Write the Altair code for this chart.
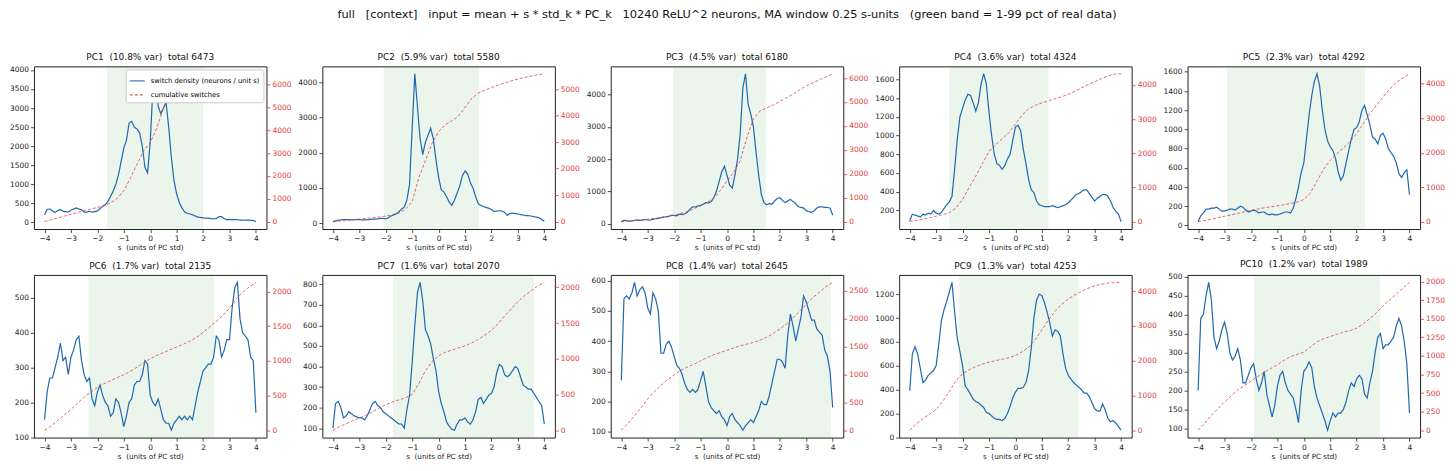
import altair as alt
import pandas as pd

# ---------------- data ----------------
S_DENS = [round(-4 + 0.1 * i, 1) for i in range(81)]
S_CUM = [-4 + 0.25 * i for i in range(33)]

PC_NAMES = ["PC1", "PC2", "PC3", "PC4", "PC5", "PC6", "PC7", "PC8", "PC9", "PC10"]
VAR_PCT = ["10.8", "5.9", "4.5", "3.6", "2.3", "1.7", "1.6", "1.4", "1.3", "1.2"]
TOTALS = [6473, 5580, 6180, 4324, 4292, 2135, 2070, 2645, 4253, 1989]
BAND_LO = [-1.63, -2.08, -2.05, -2.51, -2.90, -2.34, -1.73, -1.82, -2.13, -1.89]
BAND_HI = [2.01, 1.54, 1.47, 1.25, 2.32, 2.42, 3.61, 3.94, 2.39, 2.89]

DENS_PC1 = [200, 340, 350, 300, 260, 310, 340, 290, 280, 270,
            320, 350, 380, 350, 330, 270, 270, 290, 270, 280,
            300, 360, 420, 470, 550, 680, 820, 1000, 1250, 1600,
            1950, 2150, 2600, 2650, 2500, 2450, 2350, 2000, 1450, 1300,
            2100, 3500, 3900, 3050, 2850, 3000, 3150, 2500, 1700, 1100,
            750, 520, 380, 280, 240, 220, 200, 170, 140, 130,
            120, 110, 110, 100, 90, 100, 150, 150, 100, 70,
            70, 70, 70, 70, 60, 60, 55, 60, 55, 50,
            20]
DENS_PC2 = [40, 60, 80, 90, 100, 100, 95, 90, 95, 100,
            95, 90, 90, 95, 100, 110, 110, 120, 130, 130,
            120, 150, 200, 230, 260, 320, 400, 450, 650, 1100,
            2700, 4250, 3300, 2400, 1950, 2300, 2500, 2700, 2400, 1800,
            1300, 950, 880, 750, 600, 500, 650, 850, 1050, 1350,
            1480, 1400, 1150, 1000, 750, 550, 500, 470, 440, 420,
            380, 330, 340, 350, 340, 300, 220, 270, 280, 270,
            260, 240, 230, 210, 210, 200, 180, 170, 150, 110,
            50]
DENS_PC3 = [60, 100, 90, 70, 80, 100, 110, 100, 110, 120,
            110, 110, 130, 150, 160, 180, 200, 210, 220, 260,
            250, 240, 290, 280, 300, 350, 450, 520, 510, 550,
            560, 600, 650, 640, 680, 800, 1000, 1300, 1600, 1780,
            1500, 1200, 1100, 1500, 2000, 2800, 4200, 4650, 3700, 3400,
            3000, 2200, 1500, 900, 650, 580, 620, 600, 700, 780,
            800, 720, 650, 700, 750, 680, 620, 520, 500, 480,
            400, 370, 350, 400, 480, 520, 520, 500, 500, 480,
            260]
DENS_PC4 = [90, 160, 150, 140, 130, 160, 150, 170, 160, 200,
            170, 160, 180, 220, 260, 290, 350, 640, 960, 1200,
            1290, 1380, 1440, 1430, 1350, 1260, 1350, 1550, 1660, 1550,
            1250, 1000, 800, 700, 680, 640, 680, 750, 800, 950,
            1090, 1110, 1050, 850, 700, 530, 420, 390, 300, 260,
            250, 240, 240, 240, 250, 240, 230, 240, 250, 260,
            280, 310, 340, 370, 380, 400, 420, 420, 380, 340,
            300, 330, 350, 370, 370, 350, 300, 230, 190, 160,
            80]
DENS_PC5 = [40, 100, 130, 170, 170, 180, 180, 190, 170, 150,
            150, 160, 170, 170, 160, 180, 200, 190, 160, 140,
            150, 160, 150, 130, 140, 140, 120, 110, 120, 110,
            110, 120, 130, 140, 140, 130, 180, 280, 400, 550,
            650, 900, 1150, 1350, 1500, 1580, 1450, 1200, 1000, 880,
            820, 780, 700, 560, 470, 520, 650, 780, 900, 1000,
            1020, 1080, 1200, 1250, 1150, 1050, 920, 900, 850, 940,
            960, 900, 800, 760, 720, 650, 540, 500, 550, 580,
            320]
DENS_PC6 = [150, 230, 270, 270, 300, 330, 370, 320, 330, 280,
            330, 350, 380, 390, 320, 280, 260, 270, 210, 190,
            230, 250, 220, 200, 190, 160, 170, 210, 200, 170,
            130, 160, 200, 210, 250, 260, 260, 280, 320, 310,
            220, 200, 190, 210, 180, 150, 140, 140, 120, 140,
            150, 160, 150, 160, 150, 160, 150, 190, 230, 260,
            290, 300, 310, 310, 330, 390, 380, 330, 350, 380,
            380, 470, 530, 545, 440, 400, 390, 380, 330, 320,
            170]
DENS_PC7 = [100, 220, 230, 200, 150, 160, 180, 170, 160, 155,
            150, 150, 140, 160, 190, 220, 230, 210, 200, 180,
            170, 160, 150, 140, 130, 120, 120, 100, 190, 260,
            420, 600, 760, 810, 720, 580, 550, 510, 440, 380,
            280, 220, 180, 130, 110, 95, 90, 120, 140, 140,
            150, 130, 120, 140, 180, 240, 250, 220, 240, 260,
            270, 300, 370, 410, 400, 360, 350, 360, 380, 400,
            390, 350, 310, 300, 290, 290, 270, 250, 230, 210,
            120]
DENS_PC8 = [270, 540, 550, 540, 560, 595, 550, 570, 580, 560,
            510, 490, 560, 540, 500, 360, 360, 390, 400, 380,
            350, 320, 310, 290, 260, 240, 230, 240, 230, 240,
            270, 300, 250, 200, 180, 170, 160, 170, 150, 140,
            120, 150, 160, 140, 130, 120, 105, 120, 130, 140,
            130, 150, 170, 200, 190, 190, 220, 260, 300, 340,
            340, 330, 310, 420, 490, 450, 400, 440, 480, 550,
            530, 500, 470, 470, 440, 430, 420, 370, 350, 300,
            180]
DENS_PC9 = [390, 700, 760, 700, 580, 460, 480, 520, 540, 560,
            600, 780, 980, 1070, 1140, 1220, 1300, 1050, 830, 720,
            600, 430, 400, 360, 320, 300, 290, 270, 250, 210,
            200, 180, 160, 150, 150, 140, 160, 200, 260, 330,
            380, 410, 410, 420, 460, 560, 750, 1000, 1150, 1200,
            1190, 1130, 1050, 960, 850, 900, 890, 850, 700, 580,
            520, 490, 460, 440, 420, 400, 370, 370, 340, 290,
            240, 220, 220, 280, 230, 160, 130, 140, 120, 90,
            60]
DENS_PC10 = [200, 390, 400, 450, 485, 440, 340, 310, 330, 360,
             380, 350, 300, 280, 290, 310, 280, 220, 220, 240,
             260, 270, 230, 200, 220, 250, 190, 160, 130, 160,
             210, 240, 250, 220, 200, 190, 180, 150, 115, 200,
             250, 260, 275, 260, 210, 180, 160, 140, 120, 95,
             120, 140, 130, 140, 140, 150, 170, 200, 220, 210,
             230, 240, 230, 190, 180, 220, 250, 300, 340, 350,
             310, 320, 320, 330, 340, 370, 390, 370, 330, 270,
             140]

CUM_PC1 = [0, 80, 160, 240, 320, 400, 480, 550, 620, 700, 820, 1020, 1350, 1900, 2500, 3100,
           3450, 4100, 4950, 5650, 6000, 6200, 6280, 6330, 6360, 6380, 6400, 6420, 6440, 6450,
           6460, 6468, 6473]
CUM_PC2 = [0, 20, 45, 70, 95, 120, 145, 175, 210, 260, 330, 470, 750, 1650, 2300, 2950,
           3400, 3650, 3800, 3980, 4300, 4650, 4850, 4960, 5060, 5150, 5230, 5310, 5380, 5440,
           5490, 5540, 5580]
CUM_PC3 = [0, 25, 45, 70, 100, 135, 175, 220, 275, 340, 420, 530, 660, 810, 980, 1300,
           1700, 2050, 2550, 3500, 4300, 4620, 4750, 4880, 5020, 5180, 5330, 5500, 5680, 5800,
           5930, 6060, 6180]
CUM_PC4 = [0, 35, 75, 115, 160, 205, 260, 400, 650, 1000, 1330, 1690, 2050, 2250, 2420, 2600,
           2850, 3110, 3300, 3400, 3470, 3530, 3590, 3650, 3720, 3810, 3910, 4010, 4090, 4180,
           4260, 4310, 4324]
CUM_PC5 = [0, 30, 70, 115, 155, 195, 240, 285, 325, 365, 400, 430, 460, 490, 525, 570,
           640, 830, 1180, 1520, 1780, 1970, 2140, 2320, 2560, 2840, 3130, 3380, 3620, 3850,
           4040, 4170, 4292]
CUM_PC6 = [0, 60, 140, 220, 300, 390, 480, 550, 615, 670, 715, 760, 800, 850, 910, 975,
           1030, 1080, 1120, 1160, 1200, 1240, 1285, 1340, 1410, 1490, 1570, 1660, 1760, 1890,
           1990, 2070, 2135]
CUM_PC7 = [0, 50, 90, 130, 170, 210, 260, 310, 355, 395, 425, 455, 500, 650, 830, 960,
           1040, 1090, 1120, 1150, 1180, 1220, 1270, 1330, 1400, 1490, 1600, 1700, 1800, 1880,
           1950, 2020, 2070]
CUM_PC8 = [0, 120, 260, 400, 560, 690, 800, 900, 990, 1070, 1130, 1180, 1240, 1300, 1350, 1390,
           1430, 1470, 1510, 1540, 1570, 1610, 1660, 1730, 1810, 1900, 2010, 2130, 2250, 2370,
           2470, 2570, 2645]
CUM_PC9 = [0, 180, 330, 460, 600, 830, 1110, 1420, 1620, 1740, 1830, 1900, 1960, 2000, 2040, 2080,
           2150, 2250, 2380, 2600, 2880, 3170, 3420, 3620, 3770, 3890, 3990, 4080, 4150, 4200,
           4230, 4245, 4253]
CUM_PC10 = [0, 90, 200, 290, 380, 460, 540, 600, 660, 720, 780, 830, 880, 940, 990, 1020,
            1050, 1120, 1190, 1230, 1260, 1290, 1320, 1340, 1370, 1430, 1500, 1580, 1670, 1750,
            1830, 1910, 1989]

DENS = [DENS_PC1, DENS_PC2, DENS_PC3, DENS_PC4, DENS_PC5,
        DENS_PC6, DENS_PC7, DENS_PC8, DENS_PC9, DENS_PC10]
CUM = [CUM_PC1, CUM_PC2, CUM_PC3, CUM_PC4, CUM_PC5,
       CUM_PC6, CUM_PC7, CUM_PC8, CUM_PC9, CUM_PC10]

LEFT_TICKS = [
    list(range(0, 4001, 500)),
    list(range(0, 4001, 1000)),
    list(range(0, 4001, 1000)),
    list(range(200, 1601, 200)),
    list(range(0, 1601, 200)),
    list(range(100, 501, 100)),
    list(range(100, 801, 100)),
    list(range(100, 601, 100)),
    list(range(0, 1201, 200)),
    list(range(100, 501, 50)),
]
RIGHT_TICKS = [
    list(range(0, 6001, 1000)),
    list(range(0, 5001, 1000)),
    list(range(0, 6001, 1000)),
    list(range(0, 4001, 1000)),
    list(range(0, 4001, 1000)),
    list(range(0, 2001, 500)),
    list(range(0, 2001, 500)),
    list(range(0, 2501, 500)),
    list(range(0, 4001, 1000)),
    list(range(0, 2001, 250)),
]
X_TICKS = [-4, -3, -2, -1, 0, 1, 2, 3, 4]

LBL_D = "switch density (neurons / unit s)"
LBL_C = "cumulative switches"
BLUE = "#1f68b0"
RED = "#e0393b"
FONT = "DejaVu Sans"
NB = "\u00a0"

MAIN_TITLE = ("full   [context]   input = mean + s * std_k * PC_k   10240 ReLU^2 neurons, "
              "MA window 0.25 s-units   (green band = 1-99 pct of real data)")


def sp(t):
    return t.replace("  ", " " + NB)


def padded(vals):
    lo, hi = min(vals), max(vals)
    r = hi - lo
    return [lo - 0.05 * r, hi + 0.05 * r]


def panel(i):
    dens_df = pd.DataFrame({"s": S_DENS, "v": DENS[i], "series": LBL_D})
    cum_df = pd.DataFrame({"s": S_CUM, "v": CUM[i], "series": LBL_C})
    band_df = pd.DataFrame({"lo": [BAND_LO[i]], "hi": [BAND_HI[i]]})

    xscale = alt.Scale(domain=[-4.4, 4.4], nice=False, zero=False)
    xaxis = alt.Axis(values=X_TICKS, title=sp("s  (units of PC std)"), format="d")

    if i == 0:
        leg = alt.Legend(orient="top-right", offset=3, title=None, fillColor="white",
                         strokeColor="#cccccc", padding=3, cornerRadius=2,
                         labelFontSize=6.8, labelFont=FONT, symbolType="stroke",
                         symbolSize=220, symbolStrokeWidth=1.3, rowPadding=1,
                         labelLimit=400, labelOffset=5)
    else:
        leg = None
    color = alt.Color("series:N", scale=alt.Scale(domain=[LBL_D, LBL_C], range=[BLUE, RED]),
                      legend=leg)
    dash = alt.StrokeDash("series:N", scale=alt.Scale(domain=[LBL_D, LBL_C],
                                                      range=[[1, 0], [3, 2]]), legend=leg)

    band = alt.Chart(band_df).mark_rect(color="green", opacity=0.08).encode(
        x=alt.X("lo:Q", scale=xscale, axis=xaxis), x2="hi:Q")

    dens = alt.Chart(dens_df).mark_line(strokeWidth=1.2).encode(
        x=alt.X("s:Q", scale=xscale, axis=xaxis),
        y=alt.Y("v:Q", scale=alt.Scale(domain=padded(DENS[i]), nice=False, zero=False),
                axis=alt.Axis(orient="left", values=LEFT_TICKS[i], title=None, format="d")),
        color=color, strokeDash=dash)

    cum = alt.Chart(cum_df).mark_line(strokeWidth=0.9, opacity=0.85).encode(
        x=alt.X("s:Q", scale=xscale, axis=xaxis),
        y=alt.Y("v:Q", scale=alt.Scale(domain=padded(CUM[i]), nice=False, zero=False),
                axis=alt.Axis(orient="right", values=RIGHT_TICKS[i], title=None, format="d",
                              labelColor=RED, tickColor=RED)),
        color=color, strokeDash=dash)

    title = sp(f"{PC_NAMES[i]}  ({VAR_PCT[i]}% var)  total {TOTALS[i]}")
    return alt.layer(band, dens, cum).resolve_scale(y="independent").properties(
        width=233, height=163,
        title=alt.TitleParams(title, fontSize=9, font=FONT, fontWeight="normal",
                              offset=4, color="#111"))


chart = alt.concat(*[panel(i) for i in range(10)], columns=5,
                   spacing={"row": 46, "column": 56}, bounds="flush").resolve_scale(
    color="independent", strokeDash="independent"
).properties(
    title=alt.TitleParams(sp(MAIN_TITLE).replace("  ", NB + " "), fontSize=11.4, font=FONT,
                          fontWeight="normal", anchor="middle", offset=32, color="#111"),
    padding={"left": 0, "top": 0, "right": 2, "bottom": 2},
    background="white",
).configure_view(
    stroke="#222", strokeWidth=1
).configure_axis(
    labelFont=FONT, labelFontSize=7.5, labelColor="#222", tickSize=3.5, tickWidth=0.8,
    tickColor="#222", domain=False, grid=False, titleFont=FONT, titleFontSize=7.2,
    titleFontWeight="normal", titleColor="#222", labelPadding=2, titlePadding=2
)

chart.save("out.html", embed_options={"renderer": "svg", "actions": False})
